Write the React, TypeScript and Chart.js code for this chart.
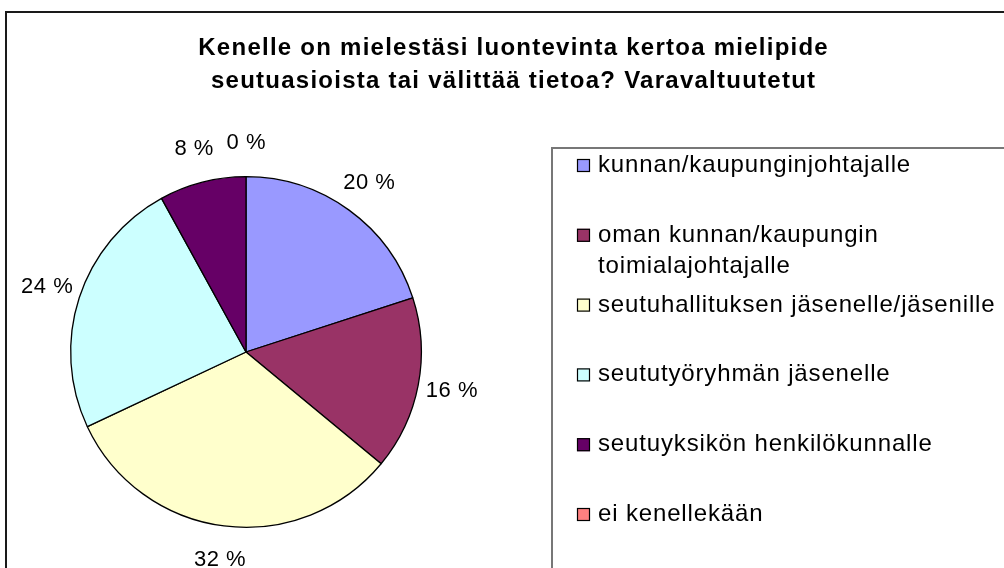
import React, { useEffect, useRef } from "react";
import { Chart, registerables } from "chart.js";

Chart.register(...registerables);

const titleLines = [
  "Kenelle on mielestäsi luontevinta kertoa mielipide",
  "seutuasioista tai välittää tietoa? Varavaltuutetut",
];
const categories = [
  "kunnan/kaupunginjohtajalle",
  "oman kunnan/kaupungin toimialajohtajalle",
  "seutuhallituksen jäsenelle/jäsenille",
  "seututyöryhmän jäsenelle",
  "seutuyksikön henkilökunnalle",
  "ei kenellekään",
];
const values = [20, 16, 32, 24, 8, 0];
const sliceColors = ["#9999FF", "#993366", "#FFFFCC", "#CCFFFF", "#660066", "#FF8080"];

const W = 1004;
const H = 568;
const FONT = "'Liberation Sans', Arial, sans-serif";

function setSpacing(ctx: any, px: number) {
  if ("letterSpacing" in ctx) ctx.letterSpacing = px + "px";
}

function wrapText(ctx: CanvasRenderingContext2D, text: string, maxW: number): string[] {
  const words = text.split(" ");
  const lines: string[] = [];
  let cur = "";
  for (const w of words) {
    const test = cur ? cur + " " + w : w;
    if (ctx.measureText(test).width > maxW && cur) {
      lines.push(cur);
      cur = w;
    } else cur = test;
  }
  if (cur) lines.push(cur);
  return lines;
}

const overlayPlugin = {
  id: "overlay",
  beforeDraw(chart: any) {
    const ctx = chart.ctx;
    ctx.save();
    ctx.fillStyle = "#ffffff";
    ctx.fillRect(0, 0, chart.width, chart.height);
    ctx.restore();
  },
  afterDraw(chart: any) {
    const ctx: CanvasRenderingContext2D = chart.ctx;
    ctx.save();

    // outer frame
    ctx.strokeStyle = "#1a1a1a";
    ctx.lineWidth = 2;
    ctx.strokeRect(6, 12, W + 40, H + 40);

    // title
    ctx.fillStyle = "#000";
    ctx.font = "bold 24px " + FONT;
    const ts = 1.25;
    setSpacing(ctx, ts);
    ctx.textAlign = "left";
    ctx.textBaseline = "alphabetic";
    titleLines.forEach((t, i) => {
      const w = ctx.measureText(t).width - ts;
      ctx.fillText(t, 513 - w / 2, 55 + i * 33);
    });

    // percent labels
    ctx.font = "22px " + FONT;
    const ps = 0.5;
    setSpacing(ctx, ps);
    ctx.textAlign = "left";
    ctx.textBaseline = "middle";
    const meta = chart.getDatasetMeta(0);
    meta.data.forEach((arc: any, i: number) => {
      const p = arc.getProps(["x", "y", "startAngle", "endAngle", "outerRadius"], true);
      const mid = (p.startAngle + p.endAngle) / 2;
      const d = p.outerRadius + 34;
      const txt = `${values[i]} %`;
      const tw = ctx.measureText(txt).width - ps;
      ctx.fillText(txt, p.x + d * Math.cos(mid) - tw / 2, p.y + d * Math.sin(mid));
    });

    // legend box
    ctx.strokeStyle = "#777";
    ctx.lineWidth = 2;
    ctx.strokeRect(552, 148, W, H);

    ctx.font = "24px " + FONT;
    setSpacing(ctx, 0.85);
    ctx.textBaseline = "alphabetic";
    const labels: string[] = chart.data.labels;
    const colors: string[] = chart.data.datasets[0].backgroundColor;
    labels.forEach((lab, i) => {
      const base = 172 + i * 69.8;
      ctx.fillStyle = colors[i];
      ctx.fillRect(577, base - 13, 13, 13);
      ctx.strokeStyle = "#000";
      ctx.lineWidth = 1.2;
      ctx.strokeRect(577.5, base - 12.5, 12, 12);
      ctx.fillStyle = "#000";
      const lines = wrapText(ctx, lab, 420);
      lines.forEach((ln, j) => ctx.fillText(ln, 598, base + j * 31));
    });

    ctx.restore();
  },
};

export default function App() {
  const ref = useRef<HTMLCanvasElement | null>(null);
  useEffect(() => {
    if (!ref.current) return;
    const chart = new Chart(ref.current, {
      type: "pie",
      data: {
        labels: categories,
        datasets: [
          {
            data: values,
            backgroundColor: sliceColors,
            borderColor: "#000000",
            borderWidth: 1.3,
          },
        ],
      },
      options: {
        responsive: false,
        animation: false,
        devicePixelRatio: 1,
        events: [],
        layout: { padding: { left: 70, right: W - 422, top: 176, bottom: H - 528 } },
        plugins: {
          legend: { display: false },
          title: { display: false },
          tooltip: { enabled: false },
        },
      } as any,
      plugins: [overlayPlugin],
    });
    return () => chart.destroy();
  }, []);
  return (
    <div style={{ position: "absolute", left: 0, top: 0, width: W, height: H }}>
      <canvas ref={ref} width={W} height={H} style={{ display: "block", width: W, height: H }} />
    </div>
  );
}
